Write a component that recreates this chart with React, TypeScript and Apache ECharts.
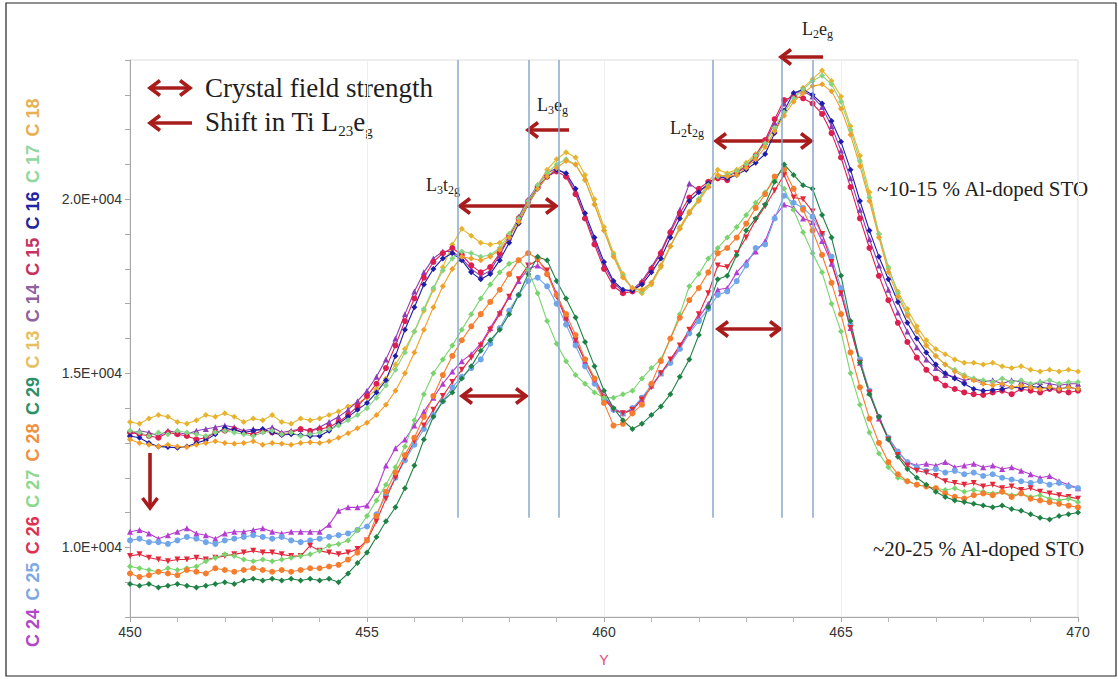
import React, { useEffect, useRef } from "react";
import * as echarts from "echarts";

// ---------- DATA ----------
const ENERGY_START = 450;
const ENERGY_STEP = 0.2;

// ~20-25 % Al-doped STO
const C24 = [10450,10500,10400,10250,10350,10450,10550,10400,10350,10250,
  10400,10450,10450,10500,10550,10450,10400,10450,10450,10450,
  10450,10650,11050,11150,11150,11200,11650,12350,12850,13100,
  13500,13900,14300,14700,15050,15350,15550,15850,16300,16750,
  17200,17650,18000,18100,17900,17300,16600,15950,15350,14850,
  14350,14000,13850,13950,14250,14650,15000,15350,15750,16200,
  16600,17000,17400,17450,17900,18200,18500,18800,19500,19850,
  19750,19450,19350,18800,18150,17300,16300,15300,14450,13700,
  13150,12750,12450,12350,12400,12350,12450,12300,12350,12400,
  12300,12350,12250,12300,12200,12100,12000,12050,11900,11800,
  11700];
const C25 = [10200,10250,10150,10150,10100,10200,10300,10250,10150,10100,
  10200,10250,10300,10350,10300,10250,10300,10200,10150,10200,
  10250,10300,10350,10400,10500,10600,10950,11500,12000,12500,
  12950,13400,13800,14200,14600,14900,15150,15400,15850,16300,
  16800,17250,17650,17750,17500,17000,16400,15800,15200,14700,
  14250,13950,13850,14000,14300,14650,15000,15300,15700,16150,
  16500,16850,17250,17350,17650,18100,18600,18700,19450,20100,
  19900,19750,19500,19000,18350,17450,16400,15400,14500,13750,
  13150,12750,12450,12300,12200,12250,12150,12200,12100,12150,
  12050,12100,12000,11950,11900,11850,11900,11800,11850,11750,
  11700];
const C26 = [9750,9800,9700,9650,9600,9650,9650,9700,9650,9700,
  9750,9800,9850,9900,9850,9850,9800,9750,9750,10050,
  9900,9850,9800,9850,9950,10200,10750,11400,12000,12550,
  13050,13500,13950,14350,14750,15100,15450,15800,16250,16700,
  17200,17700,18100,18250,17950,17200,16550,15950,15350,14800,
  14300,13950,13850,13950,14250,14600,15000,15400,15800,16250,
  16700,17300,18100,18050,18450,18900,19400,19800,20250,20700,
  20050,20000,19650,19000,18200,17300,16300,15300,14450,13700,
  13100,12650,12350,12200,12150,12050,11900,11850,11800,11850,
  11750,11800,11700,11750,11650,11700,11600,11550,11500,11450,
  11400];
const C27 = [9450,9400,9350,9300,9400,9350,9400,9450,9600,9700,
  9800,9750,9650,9600,9650,9600,9650,9700,9750,9800,
  9900,10050,10100,10200,10500,10900,11350,11800,12300,12900,
  13650,14400,15000,15400,15800,16250,16700,17150,17550,17900,
  18150,18250,17950,17300,16500,15850,15350,14950,14700,14450,
  14300,14300,14400,14500,14850,15150,15400,16000,16700,17500,
  17850,18300,18600,18900,19200,19550,19900,20200,20550,20300,
  19700,19050,18450,17900,17000,16200,15000,14100,13300,12700,
  12300,12000,11900,11800,11750,11700,11650,11700,11600,11650,
  11600,11550,11600,11500,11550,11450,11500,11400,11350,11400,
  11300];
const C28 = [9250,9150,9200,9300,9250,9200,9350,9300,9250,9400,
  9350,9300,9350,9400,9350,9300,9350,9300,9350,9400,
  9400,9450,9500,9650,9850,10200,10900,11600,12150,12650,
  13150,13750,14350,14950,15500,15950,16350,16700,17050,17400,
  17850,18250,18450,18300,17850,17250,16700,16100,15400,14850,
  14150,13500,13550,13850,14100,14700,15350,16000,16600,17100,
  17450,17900,18450,18600,18900,19300,19750,20150,20650,20850,
  20300,19700,19100,18400,17600,16700,15600,14600,13700,13000,
  12450,12100,11900,11800,11750,11700,11550,11450,11400,11500,
  11550,11500,11600,11450,11550,11400,11350,11300,11250,11200,
  11150];
const C29 = [8950,8900,8950,8850,8900,8950,8900,8850,8900,8950,
  9000,8950,9050,9100,9050,9100,9050,9100,9050,9100,
  9050,9100,9000,9250,9550,9850,10300,10750,11150,11700,
  12350,13100,13750,14200,14450,14850,15200,15650,15950,16250,
  16700,17250,17850,18350,18250,17650,17150,16600,15900,15200,
  14500,14000,13650,13400,13550,13800,14050,14400,14900,15400,
  16100,16900,17700,17800,18400,19100,19450,19850,20500,21000,
  20700,20400,20300,19550,18900,17800,16500,15300,14400,13750,
  13100,12600,12250,12000,11800,11600,11450,11350,11300,11250,
  11200,11150,11200,11100,11050,10950,10850,10800,10900,10950,
  11000];

// ~10-15 % Al-doped STO
const C13 = [13600,13550,13700,13800,13750,13600,13550,13650,13800,13750,
  13850,13750,13600,13700,13650,13800,13600,13550,13700,13650,
  13700,13800,13900,14050,14150,14300,14550,14850,15250,15700,
  16200,16800,17400,18050,18700,19150,18950,18750,18700,18750,
  19000,19400,19900,20400,20850,21150,21350,21200,20700,20000,
  19200,18450,17850,17400,17300,17550,18050,18650,19200,19650,
  20000,20500,20850,20750,20850,21050,21300,21650,22050,22500,
  22900,23200,23450,23700,23400,22950,22100,21250,20200,19000,
  18000,17350,16850,16350,15950,15700,15550,15400,15300,15300,
  15250,15300,15200,15150,15200,15100,15050,15100,15050,15100,
  15050];
const C14 = [13250,13350,13300,13200,13350,13300,13250,13350,13400,13450,
  13500,13450,13350,13400,13350,13450,13300,13350,13400,13350,
  13450,13600,13750,13950,14200,14500,14900,15400,16000,16700,
  17350,17900,18300,18500,18500,18300,18000,17800,17950,18400,
  18900,19500,20000,20400,20750,20900,20700,20200,19500,18800,
  18100,17600,17350,17400,17650,18050,18500,19100,19700,20450,
  20250,20400,20700,20650,20800,20950,21200,21650,22200,22750,
  23050,23100,22950,22650,22100,21400,20600,19700,18850,18100,
  17400,16750,16200,15750,15400,15150,14950,14900,14800,14850,
  14750,14800,14700,14800,14750,14650,14750,14700,14650,14700,
  14700];
const C15 = [13300,13250,13200,13150,13300,13250,13200,13100,13150,13300,
  13350,13400,13300,13250,13350,13300,13250,13300,13400,13350,
  13400,13450,13600,13800,14050,14350,14700,15150,15800,16500,
  17150,17750,18200,18450,18600,18400,18100,17900,18050,18450,
  18950,19450,19950,20350,20650,20800,20650,20150,19450,18700,
  18000,17500,17300,17350,17600,18000,18450,19050,19600,20050,
  20300,20500,20600,20550,20750,20950,21250,21700,22300,22850,
  22950,22900,22750,22450,21900,21200,20350,19450,18600,17800,
  17100,16450,15900,15450,15100,14850,14650,14550,14450,14400,
  14380,14450,14500,14400,14550,14500,14450,14550,14500,14450,
  14500];
const C16 = [13200,13150,13000,12900,12880,12860,12900,13000,13080,13250,
  13430,13370,13300,13350,13400,13300,13230,13250,13230,13200,
  13200,13350,13550,13750,13950,14150,14450,14800,15500,16250,
  16900,17550,18000,18300,18450,18250,17900,17700,17850,18250,
  18750,19300,19850,20300,20650,20850,20750,20300,19600,18900,
  18200,17650,17400,17380,17550,17900,18300,18900,19450,19950,
  20200,20450,20650,20600,20700,20850,21050,21300,21900,22550,
  23050,23150,23000,22750,22250,21650,20850,19950,19100,18350,
  17700,17050,16450,16000,15600,15250,15000,14850,14700,14550,
  14500,14520,14550,14600,14580,14620,14600,14570,14550,14600,
  14550];
const C17 = [13350,13300,13200,13300,13250,13350,13300,13250,13200,13300,
  13350,13300,13250,13200,13300,13350,13250,13300,13200,13250,
  13300,13400,13500,13650,13800,14000,14300,14650,15100,15600,
  16200,16850,17450,17950,18300,18500,18450,18350,18400,18600,
  19000,19450,19950,20400,20750,21000,21150,21000,20550,19850,
  19100,18400,17800,17450,17350,17600,18100,18650,19150,19600,
  20000,20400,20650,20700,20800,21000,21250,21600,22050,22500,
  22900,23150,23400,23550,23300,22800,22000,21100,20050,19000,
  18050,17300,16700,16200,15800,15500,15250,15100,14950,14850,
  14800,14750,14850,14750,14800,14700,14750,14800,14700,14750,
  14750];
const C18 = [13100,13000,12950,12900,12950,12900,12880,12950,13000,13050,
  13000,12980,13000,13050,12950,13000,12980,12950,13000,13020,
  13000,13050,13150,13280,13420,13580,13800,14100,14500,15000,
  15600,16250,16900,17500,18000,18350,18300,18250,18350,18550,
  18900,19350,19850,20300,20650,20900,21100,21000,20550,19850,
  19100,18350,17750,17450,17400,17600,18100,18650,19150,19600,
  19950,20350,20700,20650,20700,20900,21150,21500,21950,22400,
  22800,23050,23250,23300,23100,22600,21850,20950,19950,18900,
  17900,17200,16650,16200,15800,15500,15250,15050,14900,14800,
  14700,14650,14700,14600,14650,14600,14550,14600,14550,14600,
  14550];

const SERIES_NAMES = ["C 24","C 25","C 26","C 27","C 28","C 29","C 13","C 14","C 15","C 16","C 17","C 18"];
const SERIES_VALUES = [C24, C25, C26, C27, C28, C29, C13, C14, C15, C16, C17, C18];
const SERIES_COLORS = ["#b43cd0","#6fa6ea","#e4283c","#7ad46e","#f57d2d","#1e8246",
  "#e6b42d","#8c3cb4","#dc1e50","#1e1eaa","#84d484","#f0a028"];
const LEGEND_COLORS = ["#b048c8","#7ea8e4","#e03050","#8cd88c","#f09040","#2e9068",
  "#e6c060","#9060a0","#c83060","#2424a0","#90d8a0","#e8b050"];
const SERIES_SYMBOLS = ["triangle","circle","triangle","diamond","circle","diamond",
  "diamond","triangle","circle","diamond","diamond","diamond"];
const SERIES_ROTATE = [0,0,180,0,0,0,0,0,0,0,0,0];

// vertical guide lines (eV) and their lower end (counts)
const GUIDE_ENERGIES = [456.92, 458.42, 459.05, 462.30, 463.76, 464.41];
const GUIDE_BOTTOM = 10850;

const X_MIN = 450, X_MAX = 470, X_INTERVAL = 5;
const Y_MIN = 8000, Y_MAX = 24000, Y_INTERVAL = 1000;

const SERIF = '"Liberation Serif", "Times New Roman", serif';
const SANS = '"Liberation Sans", Arial, sans-serif';
const ARROW = "#a81c1c";

function arrow(x1: number, y1: number, x2: number, y2: number, both: boolean) {
  const dx = x2 - x1, dy = y2 - y1;
  const L = Math.hypot(dx, dy);
  const ux = dx / L, uy = dy / L, nx = -uy, ny = ux;
  const h = 10, w = 7.5;
  const head = (tx: number, ty: number, sx: number, sy: number) => ({
    type: "polyline",
    silent: true,
    shape: { points: [[tx - sx * h + nx * w, ty - sy * h + ny * w], [tx, ty], [tx - sx * h - nx * w, ty - sy * h - ny * w]] },
    style: { stroke: ARROW, lineWidth: 3.6, fill: "none", lineJoin: "miter" },
  });
  const els: any[] = [{
    type: "line",
    silent: true,
    shape: { x1: both ? x1 + ux * 2 : x1, y1: both ? y1 + uy * 2 : y1, x2: x2 - ux * 2, y2: y2 - uy * 2 },
    style: { stroke: ARROW, lineWidth: 3.6 },
  }];
  els.push(head(x2, y2, ux, uy));
  if (both) els.push(head(x1, y1, -ux, -uy));
  return els;
}

function label(x: number, y: number, text: string, size: number, sub: number) {
  return {
    type: "text",
    silent: true,
    x, y,
    style: {
      text,
      align: "left",
      verticalAlign: "middle",
      rich: {
        m: { fontSize: size, fontFamily: SERIF, fill: "#1e1e1e", lineHeight: Math.round(size * 1.2) },
        s: { fontSize: sub, fontFamily: SERIF, fill: "#1e1e1e", lineHeight: sub, verticalAlign: "bottom" },
      },
    },
  };
}

export default function App() {
  const ref = useRef<HTMLDivElement>(null);
  useEffect(() => {
    if (!ref.current) return;
    const chart = echarts.init(ref.current, undefined, { renderer: "svg" });

    const series: any[] = SERIES_NAMES.map((name, k) => ({
      name,
      type: "line",
      data: SERIES_VALUES[k].map((v, i) => [ENERGY_START + i * ENERGY_STEP, v]),
      symbol: SERIES_SYMBOLS[k],
      symbolRotate: SERIES_ROTATE[k],
      symbolSize: 6,
      showSymbol: true,
      color: SERIES_COLORS[k],
      lineStyle: { width: 1.1, color: SERIES_COLORS[k] },
      itemStyle: { color: SERIES_COLORS[k] },
      z: 3,
    }));
    series.push({
      name: "guides",
      type: "line",
      data: [],
      z: 1,
      markLine: {
        silent: true,
        symbol: ["none", "none"],
        label: { show: false },
        lineStyle: { color: "#8aa8cc", width: 1.5, type: "solid" },
        data: GUIDE_ENERGIES.map((e) => [{ coord: [e, GUIDE_BOTTOM] }, { coord: [e, Y_MAX] }]),
      },
    });

    const legendEls = SERIES_NAMES.map((name, k) => ({
      type: "text",
      silent: true,
      x: 33,
      y: 628 - k * 46.4,
      rotation: Math.PI / 2,
      style: {
        text: name,
        fill: LEGEND_COLORS[k],
        fontSize: 18,
        fontWeight: "bold",
        fontFamily: SANS,
        align: "center",
        verticalAlign: "middle",
      },
    }));

    const graphic: any[] = [
      { type: "rect", silent: true, shape: { x: 6, y: 3, width: 1110, height: 673 }, style: { fill: "none", stroke: "#222", lineWidth: 1.2 } },
      ...legendEls,
      ...arrow(150, 88, 190, 88, true),
      ...arrow(192, 123, 150, 123, false),
      ...arrow(460, 206, 556, 206, true),
      ...arrow(462, 396, 526, 396, true),
      ...arrow(716, 141, 811, 141, true),
      ...arrow(718, 329, 780, 329, true),
      ...arrow(569, 130, 528, 130, false),
      ...arrow(823, 57, 781, 57, false),
      ...arrow(150, 453, 150, 508, false),
      { type: "text", silent: true, x: 205, y: 88, style: { text: "Crystal field strength", fontSize: 27, fontFamily: SERIF, fill: "#1e1e1e", align: "left", verticalAlign: "middle" } },
      label(205, 122, "{m|Shift in Ti L}{s|23}{m|e}{s|g}", 27, 15),
      label(426, 185, "{m|L}{s|3}{m|t}{s|2g}", 18, 12),
      label(537, 105, "{m|L}{s|3}{m|e}{s|g}", 18, 12),
      label(670, 128, "{m|L}{s|2}{m|t}{s|2g}", 18, 12),
      label(802, 29, "{m|L}{s|2}{m|e}{s|g}", 18, 12),
      { type: "text", silent: true, x: 877, y: 189, style: { text: "~10-15 % Al-doped STO", fontSize: 21, fontFamily: SERIF, fill: "#1e1e1e", align: "left", verticalAlign: "middle" } },
      { type: "text", silent: true, x: 873, y: 549, style: { text: "~20-25 % Al-doped STO", fontSize: 21, fontFamily: SERIF, fill: "#1e1e1e", align: "left", verticalAlign: "middle" } },
    ];

    chart.setOption({
      animation: false,
      backgroundColor: "#ffffff",
      grid: { left: 130, right: 40, top: 60, bottom: 62, show: true, borderColor: "#dcdcdc", borderWidth: 1, backgroundColor: "transparent" },
      xAxis: {
        type: "value",
        min: X_MIN,
        max: X_MAX,
        interval: X_INTERVAL,
        name: "Y",
        nameLocation: "middle",
        nameGap: 36,
        nameTextStyle: { color: "#e0457b", fontSize: 14, fontFamily: SANS },
        axisLine: { show: true, lineStyle: { color: "#a8a8a8", width: 1 } },
        axisTick: { show: true, length: 5, lineStyle: { color: "#a8a8a8" } },
        minorTick: { show: true, splitNumber: 5, length: 5, lineStyle: { color: "#b8b8b8" } },
        axisLabel: { color: "#333", fontSize: 14, fontFamily: SANS, margin: 8 },
        splitLine: { show: true, lineStyle: { color: "#efefef", width: 1 } },
      },
      yAxis: {
        type: "value",
        min: Y_MIN,
        max: Y_MAX,
        interval: Y_INTERVAL,
        axisLine: { show: true, lineStyle: { color: "#a8a8a8", width: 1 } },
        axisTick: { show: true, length: 5, lineStyle: { color: "#a8a8a8" } },
        axisLabel: {
          color: "#333",
          fontSize: 14,
          fontFamily: SANS,
          margin: 8,
          formatter: (v: number) => (v % 5000 === 0 ? (v / 10000).toFixed(1) + "E+004" : ""),
        },
        splitLine: { show: false },
      },
      series,
      graphic,
    });
    return () => chart.dispose();
  }, []);
  return <div ref={ref} style={{ position: "absolute", left: 0, top: 0, width: 1118, height: 679, background: "#fff" }} />;
}
